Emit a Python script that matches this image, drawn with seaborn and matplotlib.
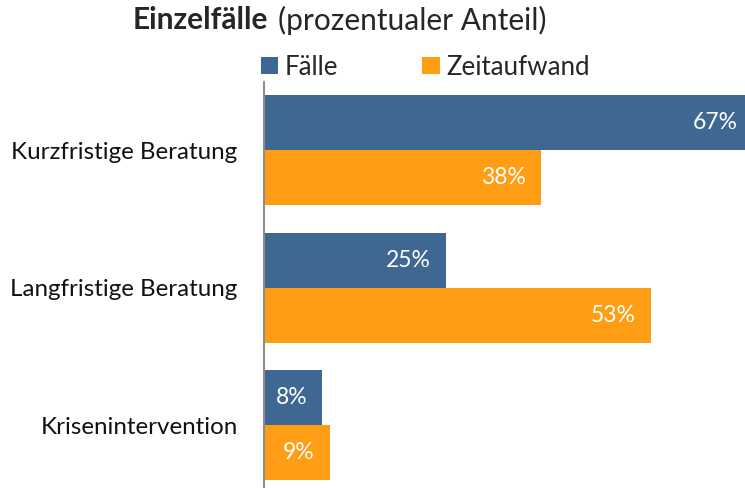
import pandas as pd
import matplotlib.pyplot as plt
import seaborn as sns

# values (percent)
kategorien = ['Kurzfristige Beratung', 'Langfristige Beratung', 'Krisenintervention']
faelle = [67, 25, 8]
zeitaufwand = [38, 53, 9]
serien = ['Fälle', 'Zeitaufwand']
farben = ['#3E6891', '#FF9D14']

df = pd.DataFrame({
    'Kategorie': kategorien * 2,
    'Anteil': faelle + zeitaufwand,
    'Serie': [serien[0]] * 3 + [serien[1]] * 3,
})

sns.set_style('white')
plt.rcParams['font.family'] = ['Lato', 'DejaVu Sans']

fig = plt.figure(figsize=(7.45, 4.88), dpi=100)
ax = fig.add_axes([264 / 745, 0.0, 1 - 264 / 745, 1 - 82 / 488])

sns.barplot(data=df, y='Kategorie', x='Anteil', hue='Serie', orient='h',
            palette=farben, saturation=1, width=0.8, linewidth=0, ax=ax)

ax.set_xlim(0, 65.9)
ax.set_ylim(2.458, -0.495)
ax.set_xlabel('')
ax.set_ylabel('')
ax.set_xticks([])
ax.tick_params(axis='y', length=0, pad=19, labelsize=17.4, labelcolor='#111111')
for s in ['top', 'right', 'bottom']:
    ax.spines[s].set_visible(False)
ax.spines['left'].set_color('#8c8c8c')
ax.spines['left'].set_linewidth(1.5)
ax.spines['left'].set_zorder(5)

# data labels, white, inside the end of each bar
for cont, werte in zip(ax.containers, [faelle, zeitaufwand]):
    texte = ax.bar_label(cont, labels=[f'{w}%' for w in werte], padding=-11,
                         color='white', fontsize=16.5)
    for t in texte:
        t.set_ha('right')
        t.set_clip_on(False)
        t.set_annotation_clip(False)

sns.move_legend(ax, 'center left', bbox_to_anchor=(-3 / 481, 1 + 15 / 406), ncol=2,
                title=None, frameon=False, fontsize=18.6, handlelength=0.66,
                handleheight=0.66, handletextpad=0.27, columnspacing=3.25,
                borderaxespad=0, borderpad=0)

# title: bold part + normal part
fig.text(268 / 745, 1 - 20 / 488, 'Einzelfälle', ha='right', va='center',
         fontsize=21.5, fontweight='bold')
fig.text(278 / 745, 1 - 20 / 488, '(prozentualer Anteil)', ha='left', va='center',
         fontsize=21.5)

fig.savefig('out.png', dpi=100)
